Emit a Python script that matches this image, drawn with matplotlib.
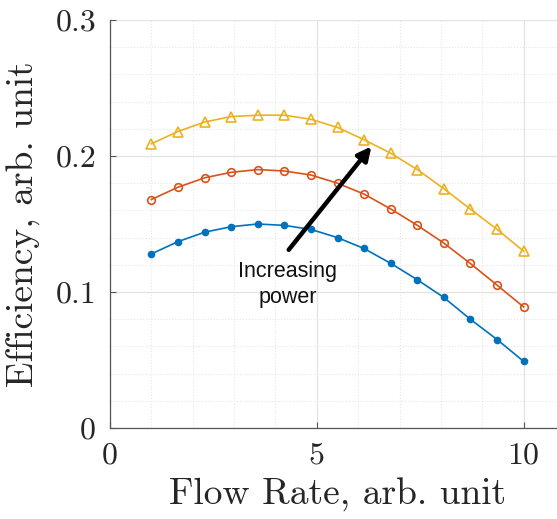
import numpy as np
import matplotlib
matplotlib.use("Agg")
import matplotlib.pyplot as plt
from matplotlib.ticker import MultipleLocator

#%% data
flow = [1.0, 1.64, 2.29, 2.93, 3.57, 4.21, 4.86, 5.5, 6.14, 6.79, 7.43, 8.07, 8.71, 9.36, 10.0]
eff_low = [0.128, 0.137, 0.144, 0.148, 0.150, 0.149, 0.146, 0.140, 0.132, 0.121, 0.109, 0.096, 0.080, 0.065, 0.049]
eff_mid = [0.168, 0.177, 0.184, 0.188, 0.190, 0.189, 0.186, 0.180, 0.172, 0.161, 0.149, 0.136, 0.121, 0.105, 0.089]
eff_high = [0.209, 0.218, 0.225, 0.229, 0.230, 0.230, 0.227, 0.221, 0.212, 0.202, 0.190, 0.176, 0.161, 0.146, 0.130]

arrow_tail = (4.32, 0.131)
arrow_head = (6.32, 0.207)

plt.rcParams['axes.formatter.use_mathtext'] = True

fig = plt.figure(figsize=(5.57, 5.19), dpi=100)
# axes run past the right edge, like the cropped original
ax = fig.add_axes([110/557, 91/519, 455/557, 408/519])

ax.plot(flow, eff_low, '-o', color='#0072BD', lw=1.2, ms=4.5, mfc='#0072BD')
ax.plot(flow, eff_mid, '-o', color='#D95319', lw=1.2, ms=5.5, mfc='none', mew=1.2)
ax.plot(flow, eff_high, '-^', color='#EDB120', lw=1.2, ms=6.5, mfc='none', mew=1.2)

ax.annotate('', xy=arrow_head, xytext=arrow_tail,
            arrowprops=dict(arrowstyle='-|>,head_length=0.8,head_width=0.4', lw=3.2, color='k',
                            shrinkA=0, shrinkB=0))
ax.text(4.3, 0.123, 'Increasing\npower', ha='center', va='top', fontsize=15.5,
        family='Liberation Sans', color='#111111', linespacing=1.35)

ax.set_xlim(0, 11)
ax.set_ylim(0, 0.3)
ax.xaxis.set_minor_locator(MultipleLocator(1))
ax.yaxis.set_minor_locator(MultipleLocator(0.02))
ax.set_yticks([0, 0.1, 0.2, 0.3])
ax.set_yticklabels(['0', '0.1', '0.2', '0.3'])
ax.set_xticks([0, 5, 10])
ax.set_xticklabels(['0', '5', '10'])

ax.grid(which='major', color='#e3e3e3', lw=0.9, ls='-')
ax.grid(which='minor', color='#e6e6e6', lw=0.8, ls=':')
ax.set_axisbelow(True)

for s in ['top', 'right']:
    ax.spines[s].set_visible(False)
for s in ['left', 'bottom']:
    ax.spines[s].set_color('#555555')
    ax.spines[s].set_linewidth(0.9)

ax.tick_params(which='major', direction='in', length=4, width=0.8, color='#555555',
               labelsize=23, pad=10)
ax.tick_params(which='minor', length=0)
for lab in ax.get_xticklabels() + ax.get_yticklabels():
    lab.set_family('cmr10')
    lab.set_color('#262626')

ax.set_xlabel('Flow Rate, arb. unit', fontsize=27, family='cmr10', color='#262626', labelpad=6)
ax.set_ylabel('Efficiency, arb. unit', fontsize=27, family='cmr10', color='#262626', labelpad=10)

fig.savefig('out.png', dpi=100)
